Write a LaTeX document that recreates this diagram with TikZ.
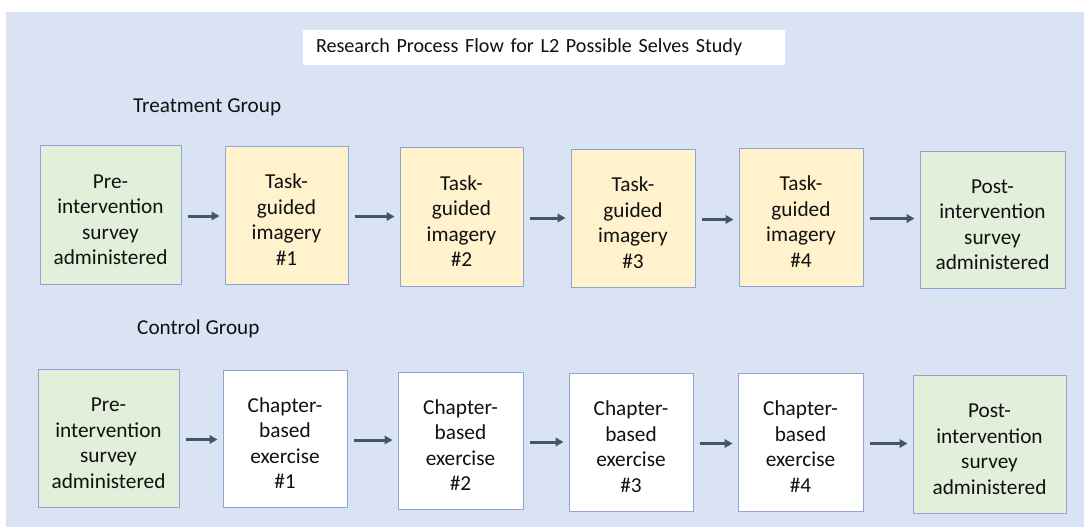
\documentclass[tikz,border=0pt]{standalone}
\usepackage{fontspec}
\setmainfont{Carlito}
\usetikzlibrary{arrows.meta}
\definecolor{bgblue}{HTML}{DAE3F3}
\definecolor{boxgreen}{HTML}{E2EFDA}
\definecolor{boxyellow}{HTML}{FFF2CC}
\definecolor{boxborder}{HTML}{8EA6D3}
\definecolor{arrowcol}{HTML}{44546A}
\definecolor{txt}{HTML}{111111}
\newcommand\bxpad{\rule{0pt}{24pt}}
\begin{document}
\begin{tikzpicture}[x=1pt,y=-1pt,
  box/.style={draw=boxborder, line width=1pt, rectangle, align=center, text=txt,
    font=\fontsize{21.3}{25.5}\selectfont, inner sep=0pt},
  greenbox/.style={box, fill=boxgreen},
  yellowbox/.style={box, fill=boxyellow},
  whitebox/.style={box, fill=white},
  flow/.style={draw=arrowcol, line width=3pt, -{Triangle[length=8pt,width=8.5pt]},
    shorten <=6pt, shorten >=5pt},
  grouplabel/.style={anchor=west, inner sep=0pt, text=txt, font=\fontsize{21.2}{25}\selectfont}
]
\useasboundingbox (0,0) rectangle (1084,527);
\fill[bgblue] (6,12) rectangle (1084,527);

\node[fill=white, text=txt, anchor=center, minimum width=482pt, minimum height=35pt,
  text width=456pt, inner xsep=13pt, inner ysep=0pt, align=left,
  font=\fontsize{20.1}{24}\selectfont] (title) at (544,47.5)
  {Research Process Flow for L2 Possible Selves Study};

\node[grouplabel] (tg) at (133,107) {Treatment Group};
\node[grouplabel] (cg) at (137,329) {Control Group};

% Treatment row
\node[greenbox, minimum width=141pt, minimum height=139pt] (tpre) at (110.5,214.5) {\bxpad Pre-\\intervention\\survey\\administered};
\node[yellowbox, minimum width=123pt, minimum height=138pt] (t1) at (286.5,215) {\bxpad Task-\\guided\\imagery\\\#1};
\node[yellowbox, minimum width=123pt, minimum height=139pt] (t2) at (461.5,216.5) {\bxpad Task-\\guided\\imagery\\\#2};
\node[yellowbox, minimum width=124pt, minimum height=138pt] (t3) at (633,218) {\bxpad Task-\\guided\\imagery\\\#3};
\node[yellowbox, minimum width=124pt, minimum height=138pt] (t4) at (801,217) {\bxpad Task-\\guided\\imagery\\\#4};
\node[greenbox, minimum width=145pt, minimum height=137pt] (tpost) at (992.5,219.5) {\bxpad Post-\\intervention\\survey\\administered};

% Control row
\node[greenbox, minimum width=141pt, minimum height=138pt] (cpre) at (108.5,438) {\bxpad Pre-\\intervention\\survey\\administered};
\node[whitebox, minimum width=124pt, minimum height=137pt] (c1) at (285,438.5) {\bxpad Chapter-\\based\\exercise\\\#1};
\node[whitebox, minimum width=125pt, minimum height=137pt] (c2) at (460.5,440.5) {\bxpad Chapter-\\based\\exercise\\\#2};
\node[whitebox, minimum width=124pt, minimum height=138pt] (c3) at (631,442) {\bxpad Chapter-\\based\\exercise\\\#3};
\node[whitebox, minimum width=125pt, minimum height=138pt] (c4) at (800.5,442) {\bxpad Chapter-\\based\\exercise\\\#4};
\node[greenbox, minimum width=153pt, minimum height=138pt] (cpost) at (989.5,444) {\bxpad Post-\\intervention\\survey\\administered};

% Arrows
\foreach \a/\b in {tpre/t1, t1/t2, t2/t3, t3/t4, t4/tpost, cpre/c1, c1/c2, c2/c3, c3/c4, c4/cpost}
  \draw[flow] ([yshift=-1.5pt]\a.east) -- ([yshift=-1.5pt]\a.east -| \b.west);
\end{tikzpicture}
\end{document}
